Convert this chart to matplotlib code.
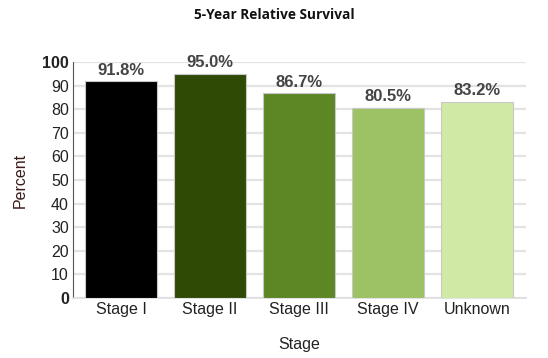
import matplotlib
matplotlib.use("Agg")
import matplotlib.pyplot as plt

categories = ["Stage I", "Stage II", "Stage III", "Stage IV", "Unknown"]
values = [91.8, 95.0, 86.7, 80.5, 83.2]
colors = ["#000000", "#2f4a05", "#5d8625", "#9dc264", "#d0e9a5"]
yticks = [0, 10, 20, 30, 40, 50, 60, 70, 80, 90, 100]

plt.rcParams['font.family'] = ['Liberation Sans', 'DejaVu Sans']

fig = plt.figure(figsize=(5.48, 3.58), dpi=100)
ax = fig.add_axes([73/548, 1-298/358, (526-73)/548, (298-62)/358])

x = range(len(categories))
bars = ax.bar(x, values, width=0.81, color=colors, edgecolor="#c8c8c8", linewidth=0.8, zorder=3)
for xi, v in zip(x, values):
    ax.text(xi, v + 1.6, f"{v:.1f}%", ha="center", va="bottom", fontsize=12,
            fontweight="bold", color="#444444")

ax.set_xlim(-0.54, len(categories) - 1 + 0.55)
ax.set_ylim(0, 100)
ax.set_yticks(yticks)
ax.set_yticklabels([str(t) for t in yticks], fontsize=11.5, color="#222222")
for lbl, t in zip(ax.get_yticklabels(), yticks):
    if t in (0, 100):
        lbl.set_fontweight("bold")
ax.set_xticks(list(x))
ax.set_xticklabels(categories, fontsize=11.5, color="#222222")
ax.tick_params(axis="both", length=0, pad=3)
ax.yaxis.grid(True, color="#e3e3e3", linewidth=1.6, zorder=0)
ax.set_axisbelow(True)
for s in ["top", "right"]:
    ax.spines[s].set_visible(False)
ax.spines["left"].set_color("#555555")
ax.spines["left"].set_linewidth(0.8)
ax.spines["bottom"].set_color("#dddddd")
ax.spines["bottom"].set_linewidth(1.2)

ax.set_ylabel("Percent", fontsize=11.5, color="#3a1a1a", labelpad=10)
ax.set_xlabel("Stage", fontsize=11.5, color="#222222", labelpad=14)
fig.text(0.5, 1 - 15/358, "5-Year Relative Survival", ha="center", va="center",
         fontsize=9.8, fontweight="bold", family=["Open Sans", "DejaVu Sans"], color="#111111")

fig.savefig("out.png", dpi=100)
